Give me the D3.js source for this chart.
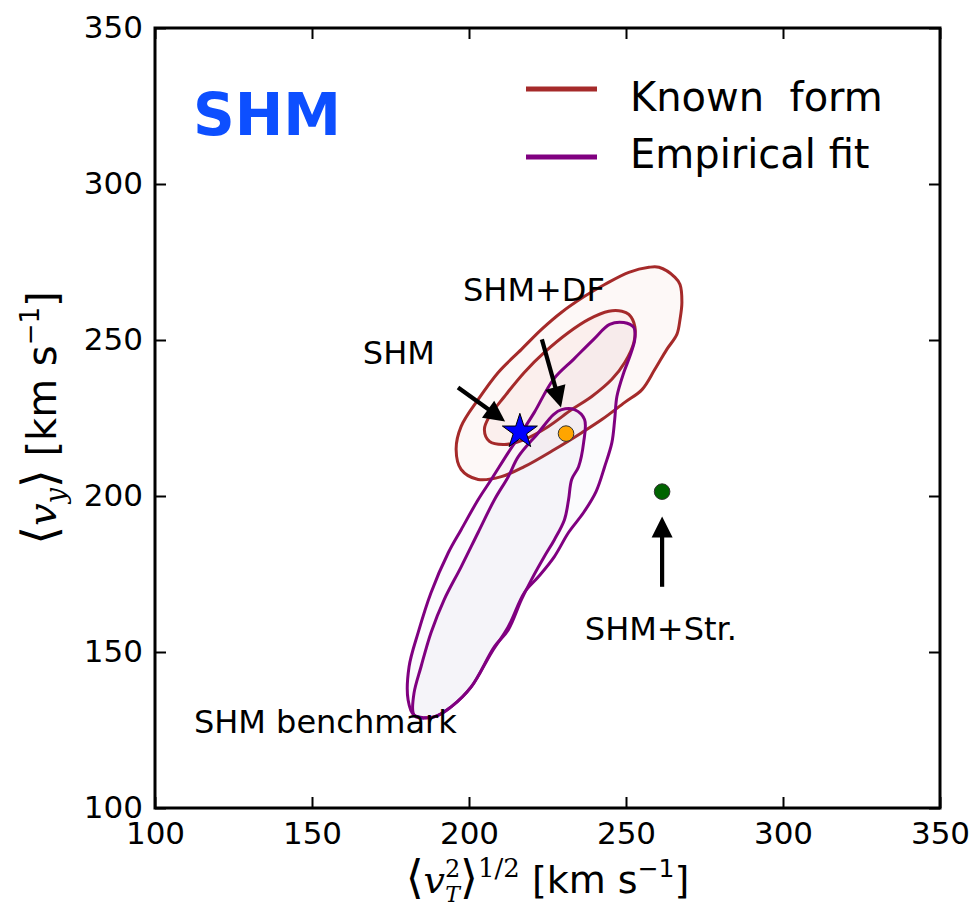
<!DOCTYPE html>
<html><head><meta charset="utf-8">
<script src="https://cdn.jsdelivr.net/npm/d3@7/dist/d3.min.js"></script>
<style>body{margin:0;background:#fff}</style>
</head><body>
<svg id="chart" width="972" height="912"></svg>
<script>
// ---- data ----
const xTicks = [100, 150, 200, 250, 300, 350];
const yTicks = [100, 150, 200, 250, 300, 350];
const xDomain = [100, 350];
const yDomain = [100, 350];

const knownOuter = [[260.5,273.3],[265.6,270.1],[267.2,267.8],[267.8,262.0],[267.2,256.6],[266.2,251.8],[263.0,247.0],[259.2,240.6],[255.1,234.1],[249.6,230.0],[242.3,224.5],[235.9,220.3],[227.2,214.9],[217.6,209.4],[210.3,206.2],[202.9,205.3],[197.5,208.5],[195.9,214.9],[197.5,222.3],[202.9,230.9],[209.3,239.6],[216.7,247.0],[223.1,253.4],[229.5,258.9],[236.8,264.0],[243.2,267.8],[250.9,271.7],[257.3,273.3]];
const knownInner = [[250.9,258.2],[252.8,254.4],[252.5,249.2],[249.6,242.8],[245.5,237.4],[239.1,231.9],[232.7,227.7],[225.3,222.3],[217.6,218.1],[211.3,216.5],[206.5,217.5],[204.9,221.3],[206.5,225.5],[211.3,231.9],[217.6,239.6],[224.0,246.0],[231.7,252.4],[238.1,256.6],[244.5,259.2],[248.7,259.2]];
const empOuter = [[244.8,255.0],[249.3,255.6],[252.5,254.0],[252.8,250.2],[251.2,244.7],[249.3,239.6],[247.1,231.9],[246.4,224.5],[245.5,217.1],[243.2,209.4],[240.5,201.5],[236.5,194.7],[231.7,188.3],[227.2,180.6],[222.1,174.1],[217.6,169.0],[212.5,158.1],[207.1,149.7],[200.7,138.8],[194.3,132.4],[188.9,129.2],[182.5,129.8],[180.6,134.7],[180.9,145.2],[183.8,156.2],[187.9,169.0],[193.4,181.8],[197.5,189.2],[202.9,198.8],[207.1,205.3],[212.5,213.9],[216.7,220.3],[220.8,226.8],[226.9,237.4],[233.3,243.8],[239.7,250.2]];
const empInner = [[229.5,227.7],[233.6,227.7],[236.8,224.5],[236.5,217.1],[234.9,209.4],[232.7,205.3],[231.7,198.8],[230.4,192.4],[227.2,186.0],[224.0,180.6],[219.9,173.2],[216.7,166.8],[212.5,157.1],[208.1,151.7],[200.7,138.8],[194.3,132.4],[188.9,129.2],[183.1,129.2],[182.2,130.5],[182.5,136.9],[184.7,145.2],[187.9,156.2],[192.1,166.8],[197.5,177.3],[202.9,188.3],[208.1,198.8],[212.5,206.2],[215.7,212.6],[222.1,220.3],[226.9,226.1]];

const points = [
  {name:"SHM", x:216.2, y:220.6, kind:"star", color:"#0000ff"},
  {name:"SHM+DF", x:230.9, y:220.0, kind:"circle", color:"#ffa500"},
  {name:"SHM+Str.", x:261.5, y:201.4, kind:"circle", color:"#006400"}
];
const arrows = [
  {from:[196.5,234.8], to:[211.5,223.9]},
  {from:[223.2,250.2], to:[229.3,228.4]},
  {from:[261.5,170.9], to:[261.5,193.4]}
];
const labels = [
  {text:"SHM", x:166.2, y:242.2},
  {text:"SHM+DF", x:198.1, y:262.4},
  {text:"SHM+Str.", x:236.9, y:153.9},
  {text:"SHM benchmark", x:112.4, y:124.1}
];
const legendItems = [
  {label:"Known  form", color:"#a52a2a"},
  {label:"Empirical fit", color:"#800080"}
];

// ---- layout ----
const svg = d3.select("#chart");
const L = 155, R = 940, T = 28, B = 808;
const x = d3.scaleLinear().domain(xDomain).range([L, R]);
const y = d3.scaleLinear().domain(yDomain).range([B, T]);
const font = "'DejaVu Sans', sans-serif";
const serif = "'DejaVu Serif', serif";

const line = d3.line().x(d => x(d[0])).y(d => y(d[1])).curve(d3.curveCatmullRomClosed.alpha(0.5));

const plot = svg.append("g");
function contour(data, color, op) {
  plot.append("path").attr("d", line(data)).attr("fill", color).attr("fill-opacity", op).attr("stroke", "none");
}
function contourLine(data, color) {
  plot.append("path").attr("d", line(data)).attr("fill", "none").attr("stroke", color).attr("stroke-width", 3).attr("stroke-linejoin", "round");
}
contour(knownOuter, "#d03020", 0.035);
contour(knownInner, "#d03020", 0.045);
contourLine(knownOuter, "#a52a2a");
contourLine(knownInner, "#a52a2a");
contour(empOuter, "#6a51a3", 0.025);
contour(empInner, "#6a51a3", 0.04);
contourLine(empOuter, "#800080");
contourLine(empInner, "#800080");

// arrows
arrows.forEach(a => {
  const x1 = x(a.from[0]), y1 = y(a.from[1]), x2 = x(a.to[0]), y2 = y(a.to[1]);
  const dx = x2 - x1, dy = y2 - y1, len = Math.hypot(dx, dy);
  const ux = dx / len, uy = dy / len;
  const hl = 21, hw = 10.5;
  const bx = x2 - ux * hl, by = y2 - uy * hl;
  plot.append("line").attr("x1", x1).attr("y1", y1).attr("x2", bx + ux*2).attr("y2", by + uy*2)
    .attr("stroke", "#000").attr("stroke-width", 4.2);
  plot.append("path").attr("d", `M${x2},${y2}L${bx - uy*hw},${by + ux*hw}L${bx + uy*hw},${by - ux*hw}Z`).attr("fill", "#000");
});

// points
points.forEach(p => {
  if (p.kind === "star") {
    plot.append("path").attr("d", d3.symbol(d3.symbolStar, 380)())
      .attr("transform", `translate(${x(p.x)},${y(p.y)}) `)
      .attr("fill", p.color).attr("stroke", "#000").attr("stroke-width", 1);
  } else {
    plot.append("circle").attr("cx", x(p.x)).attr("cy", y(p.y)).attr("r", 7.8)
      .attr("fill", p.color).attr("stroke", "#333").attr("stroke-width", 1);
  }
});

// annotation labels
labels.forEach(l => {
  svg.append("text").attr("x", x(l.x)).attr("y", y(l.y)).text(l.text)
    .attr("font-family", font).attr("font-size", 32).attr("fill", "#000");
});

// big SHM title
svg.append("text").attr("x", x(112.1)).attr("y", y(315.7)).text("SHM")
  .attr("font-family", font).attr("font-weight", "bold").attr("font-size", 58).attr("fill", "#0d4fff");

// legend
const legendLineY = [89, 157];
const legendTextY = [111, 168];
legendItems.forEach((d, i) => {
  svg.append("line").attr("x1", 526).attr("x2", 597).attr("y1", legendLineY[i]).attr("y2", legendLineY[i])
    .attr("stroke", d.color).attr("stroke-width", 5);
  svg.append("text").attr("x", 630).attr("y", legendTextY[i]).text(d.label)
    .style("white-space", "pre")
    .attr("font-family", font).attr("font-size", 40).attr("fill", "#000");
});

// axes
const tickLen = 11;
const ax = svg.append("g").attr("transform", `translate(0,${B})`)
  .call(d3.axisBottom(x).tickValues(xTicks).tickSizeInner(-tickLen).tickSizeOuter(0).tickPadding(14));
const ay = svg.append("g").attr("transform", `translate(${L},0)`)
  .call(d3.axisLeft(y).tickValues(yTicks).tickSizeInner(-tickLen).tickSizeOuter(0).tickPadding(12));
const axt = svg.append("g").attr("transform", `translate(0,${T})`)
  .call(d3.axisTop(x).tickValues(xTicks).tickSizeInner(-tickLen).tickSizeOuter(0).tickFormat(""));
const ayr = svg.append("g").attr("transform", `translate(${R},0)`)
  .call(d3.axisRight(y).tickValues(yTicks).tickSizeInner(-tickLen).tickSizeOuter(0).tickFormat(""));
[ax, ay, axt, ayr].forEach(g => {
  g.select(".domain").remove();
  g.selectAll(".tick line").attr("stroke", "#000").attr("stroke-width", 2);
  g.selectAll(".tick text").attr("font-family", font).attr("font-size", 31).attr("fill", "#000");
});
svg.append("rect").attr("x", L).attr("y", T).attr("width", R - L).attr("height", B - T)
  .attr("fill", "none").attr("stroke", "#000").attr("stroke-width", 3);

// x label
const xl = svg.append("text").attr("x", (L + R) / 2).attr("y", 893).attr("text-anchor", "middle")
  .attr("font-family", font).attr("font-size", 38).attr("fill", "#000");
xl.append("tspan").text("⟨").attr("font-size", 46).attr("font-family", serif);
xl.append("tspan").text("v").attr("font-family", serif).attr("font-style", "italic");
xl.append("tspan").text("2").attr("font-size", 24).attr("dy", -16).attr("font-family", serif);
xl.append("tspan").text("T").attr("font-size", 22).attr("dx", -15).attr("dy", 25).attr("font-family", serif).attr("font-style", "italic");
xl.append("tspan").text("⟩").attr("font-size", 46).attr("dy", -9).attr("font-family", serif);
xl.append("tspan").text("1/2").attr("font-size", 26).attr("dy", -16).attr("font-family", serif);
xl.append("tspan").text(" [km s").attr("dy", 16);
xl.append("tspan").text("−1").attr("font-size", 25).attr("dy", -16);
xl.append("tspan").text("]").attr("dy", 16);

// y label
const yl = svg.append("text").attr("transform", `translate(56,${(T + B) / 2}) rotate(-90)`).attr("text-anchor", "middle")
  .attr("font-family", font).attr("font-size", 40).attr("fill", "#000");
yl.append("tspan").text("⟨").attr("font-size", 48).attr("font-family", serif);
yl.append("tspan").text("v").attr("font-family", serif).attr("font-style", "italic");
yl.append("tspan").text("y").attr("font-size", 27).attr("dy", 9).attr("font-family", serif).attr("font-style", "italic");
yl.append("tspan").text("⟩").attr("font-size", 48).attr("dy", -9).attr("font-family", serif);
yl.append("tspan").text(" [km s");
yl.append("tspan").text("−1").attr("font-size", 26).attr("dy", -17);
yl.append("tspan").text("]").attr("dy", 17);
</script>
</body></html>
